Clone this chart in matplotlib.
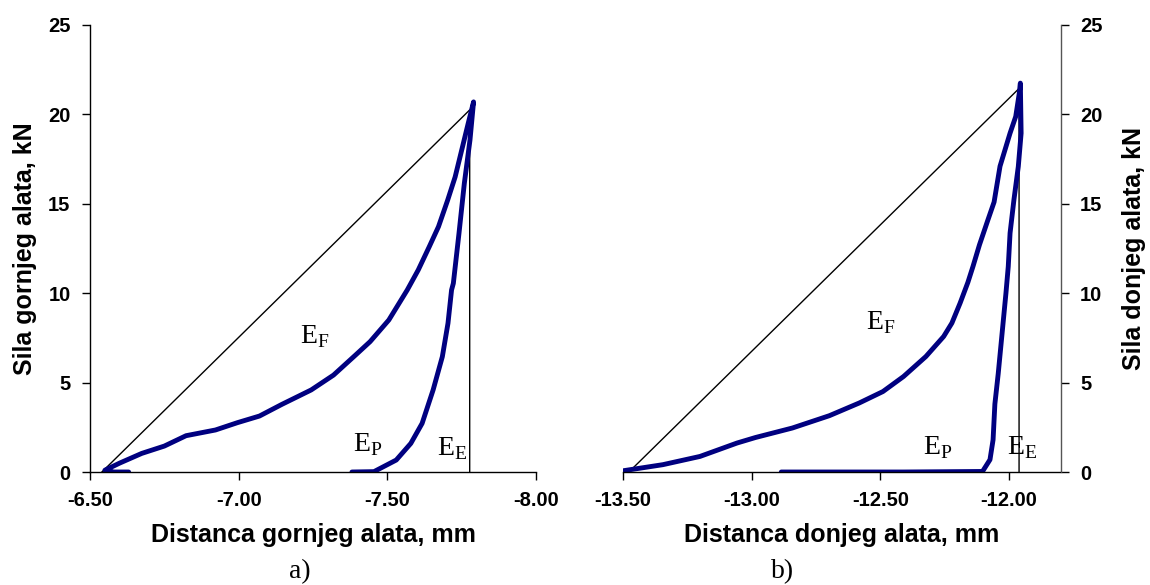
import matplotlib
matplotlib.use("Agg")
import matplotlib.pyplot as plt

plt.rcParams["font.family"] = "Liberation Sans"
plt.rcParams["mathtext.fontset"] = "custom"
plt.rcParams["mathtext.rm"] = "Liberation Serif"

# ---- a) gornji alat ----
upper_x = [-6.63, -6.58, -6.55, -6.60, -6.674, -6.75, -6.823, -6.922, -6.996, -7.07, -7.145,
           -7.244, -7.319, -7.393, -7.442, -7.505, -7.567, -7.604, -7.641, -7.672, -7.703,
           -7.728, -7.753, -7.772, -7.790,
           -7.778, -7.759, -7.741, -7.722, -7.716, -7.704, -7.685, -7.654, -7.617, -7.579,
           -7.530, -7.455, -7.381]
upper_y = [0.0, 0.0, 0.1, 0.5, 1.04, 1.45, 2.03, 2.35, 2.76, 3.13, 3.78,
           4.59, 5.42, 6.54, 7.29, 8.5, 10.18, 11.3, 12.6, 13.72, 15.21,
           16.5, 18.2, 19.5, 20.7,
           18.57, 16.15, 13.35, 10.55, 10.18, 8.32, 6.45, 4.59, 2.72, 1.6,
           0.67, 0.02, 0.0]
upper_ref_x = [-6.54, -7.777, -7.777]
upper_ref_y = [0.0, 20.25, 0.0]

# ---- b) donji alat ----
lower_x = [-13.499, -13.345, -13.201, -13.057, -12.985, -12.842, -12.698, -12.582, -12.490,
           -12.41, -12.323, -12.254, -12.222, -12.190, -12.160, -12.140, -12.115, -12.082,
           -12.058, -12.035, -11.996, -11.974, -11.96, -11.956,
           -11.953, -11.964, -11.981, -11.996, -12.003, -12.012, -12.030, -12.042, -12.055,
           -12.062, -12.074, -12.103, -12.41, -12.885]
lower_y = [0.07, 0.41, 0.87, 1.62, 1.93, 2.46, 3.15, 3.86, 4.5,
           5.34, 6.46, 7.58, 8.33, 9.45, 10.6, 11.5, 12.7, 14.1,
           15.1, 17.1, 18.95, 19.88, 21.2, 21.75,
           18.95, 17.08, 15.22, 13.36, 11.49, 10.0, 7.3, 5.5, 3.8,
           1.8, 0.69, 0.03, 0.0, 0.0]
lower_ref_x = [-13.477, -11.961, -11.961]
lower_ref_y = [0.0, 21.45, 0.0]

upper_xticks = [-6.5, -7.0, -7.5, -8.0]
lower_xticks = [-13.5, -13.0, -12.5, -12.0]
yticks = [0, 5, 10, 15, 20, 25]

W, H = 1150, 585
fig = plt.figure(figsize=(11.5, 5.85), dpi=100)
ax1 = fig.add_axes([90 / W, 113 / H, 446 / W, 447 / H])
ax2 = fig.add_axes([623 / W, 113 / H, 437.5 / W, 447 / H])

blue = "#000080"
tick_font = dict(fontsize=14.5, fontweight="bold")
lab_font = dict(fontsize=18, fontweight="bold")
e_font = dict(fontsize=20, family="Liberation Serif")

# a)
ax1.plot(upper_ref_x, upper_ref_y, color="black", lw=1.0)
ax1.plot(upper_x, upper_y, color=blue, lw=3.5, solid_capstyle="round", solid_joinstyle="round")
ax1.set_xlim(-6.5, -8.0)
ax1.set_ylim(0, 25)
ax1.set_xticks(upper_xticks)
ax1.set_xticklabels([f"{v:.2f}" for v in upper_xticks], **tick_font)
ax1.set_yticks(yticks)
ax1.set_yticklabels([str(v) for v in yticks], **tick_font)
ax1.spines[["top", "right"]].set_visible(False)
ax1.set_xlabel("Distanca gornjeg alata, mm", labelpad=9, **lab_font)
ax1.set_ylabel("Sila gornjeg alata, kN", **lab_font)
ax1.yaxis.set_label_coords(-0.119, 0.5)
ax1.text(-7.207, 7.2, r"E$_\mathrm{F}$", **e_font)
ax1.text(-7.386, 1.14, r"E$_\mathrm{P}$", **e_font)
ax1.text(-7.666, 0.95, r"E$_\mathrm{E}$", **e_font)

# b)
ax2.plot(lower_ref_x, lower_ref_y, color="black", lw=1.0)
ax2.plot(lower_x, lower_y, color=blue, lw=3.5, solid_capstyle="round", solid_joinstyle="round")
ax2.set_xlim(-13.5, -11.8)
ax2.set_ylim(0, 25)
ax2.set_xticks(lower_xticks)
ax2.set_xticklabels([f"{v:.2f}" for v in lower_xticks], **tick_font)
ax2.yaxis.tick_right()
ax2.yaxis.set_label_position("right")
ax2.set_yticks(yticks)
ax2.set_yticklabels([str(v) for v in yticks], **tick_font)
ax2.spines[["top", "left"]].set_visible(False)
ax2.spines["right"].set_color("#555555")
ax2.set_xlabel("Distanca donjeg alata, mm", labelpad=9, **lab_font)
ax2.set_ylabel("Sila donjeg alata, kN", **lab_font)
ax2.yaxis.set_label_coords(1.14, 0.5)
ax2.text(-12.554, 7.99, r"E$_\mathrm{F}$", **e_font)
ax2.text(-12.335, 1.0, r"E$_\mathrm{P}$", **e_font)
ax2.text(-12.007, 1.0, r"E$_\mathrm{E}$", **e_font)

for ax in (ax1, ax2):
    ax.tick_params(direction="out", length=6, width=1, pad=8)
    for s in ax.spines.values():
        s.set_linewidth(1)

fig.text(300 / W, 1 - 572 / H, "a)", ha="center", va="center", fontsize=20, family="Liberation Serif")
fig.text(783 / W, 1 - 572 / H, "b)", ha="center", va="center", fontsize=20, family="Liberation Serif")

fig.savefig("out.png", dpi=100)
